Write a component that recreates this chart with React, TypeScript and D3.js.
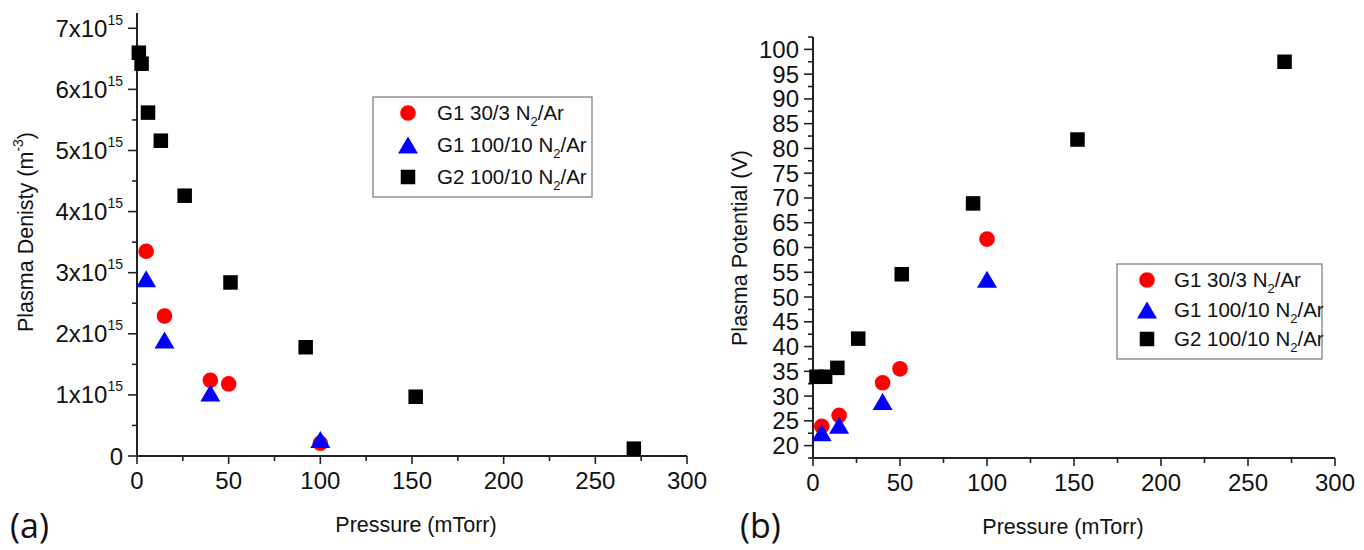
import React, { useEffect, useRef } from "react";
import * as d3 from "d3";

// ---------- Data ----------
// Panel (a): Plasma density (x1e15 m^-3) vs pressure (mTorr)
const pressureG1a = [5, 15, 40, 50, 100];
const densityG1a = [3.35, 2.29, 1.24, 1.18, 0.21];
const pressureG1b = [5, 15, 40, 100];
const densityG1b = [2.9, 1.9, 1.03, 0.27];
const pressureG2 = [1, 2.5, 6, 13, 26, 51, 92, 152, 271];
const densityG2 = [6.6, 6.42, 5.62, 5.16, 4.26, 2.84, 1.78, 0.97, 0.12];

// Panel (b): Plasma potential (V) vs pressure (mTorr)
const pressureG1aV = [5, 15, 40, 50, 100];
const potentialG1a = [23.9, 26.1, 32.7, 35.5, 61.7];
const pressureG1bV = [5, 15, 40, 100];
const potentialG1b = [22.6, 24.1, 28.9, 53.6];
const pressureG2V = [2, 7, 14, 26, 51, 92, 152, 271];
const potentialG2 = [33.9, 33.9, 35.7, 41.6, 54.6, 68.9, 81.8, 97.5];

const seriesNames = ["G1 30/3 N", "G1 100/10 N", "G2 100/10 N"];
const seriesKinds = ["circle", "triangle", "square"];
const seriesColors = ["#ff0000", "#0000ff", "#000000"];

const xTicks = [0, 50, 100, 150, 200, 250, 300];
const densityTicks = [0, 1, 2, 3, 4, 5, 6, 7];
const potentialTicks = d3.range(20, 101, 5);

const FONT = "'Liberation Sans', Arial, Helvetica, sans-serif";
const TICK_FS = 24;
const LEG_FS = 20.5;
const TITLE_FS = 21.5;

function drawMarker(g: any, kind: string, color: string, cx: number, cy: number) {
  if (kind === "circle") {
    g.append("circle").attr("cx", cx).attr("cy", cy).attr("r", 7.8).attr("fill", color);
  } else if (kind === "triangle") {
    const w = 20, h = 17;
    g.append("path")
      .attr("d", `M${cx},${cy - h / 2}L${cx + w / 2},${cy + h / 2}L${cx - w / 2},${cy + h / 2}Z`)
      .attr("fill", color);
  } else {
    const s = 14.5;
    g.append("rect").attr("x", cx - s / 2).attr("y", cy - s / 2).attr("width", s).attr("height", s).attr("fill", color);
  }
}

export default function App() {
  const ref = useRef<SVGSVGElement | null>(null);

  useEffect(() => {
    const svg = d3.select(ref.current);
    svg.selectAll("*").remove();

    const drawPanel = (opts: any) => {
      const { x, y, yTicks, yMinor, xLabelCx, series, yTickFmt, yTitle, yTitleX, yTitleY, panelLabel, panelLabelX, legend } = opts;
      const g = svg.append("g");
      const [x0, x1] = x.range();
      const [yb, yt] = y.range();

      // x minor/major ticks
      d3.range(0, 301, 25).forEach((v: number) => {
        const major = v % 50 === 0;
        g.append("line").attr("x1", x(v)).attr("x2", x(v)).attr("y1", yb).attr("y2", yb + (major ? 8 : 5))
          .attr("stroke", "#222").attr("stroke-width", 1.6);
      });
      xTicks.forEach((v: number) => {
        g.append("text").attr("x", x(v)).attr("y", yb + 33).attr("text-anchor", "middle")
          .attr("font-family", FONT).attr("font-size", TICK_FS).attr("fill", "#111").text(String(v));
      });
      // y ticks
      yMinor.forEach((v: number) => {
        g.append("line").attr("x1", x0).attr("x2", x0 - 5).attr("y1", y(v)).attr("y2", y(v))
          .attr("stroke", "#222").attr("stroke-width", 1.6);
      });
      yTicks.forEach((v: number) => {
        g.append("line").attr("x1", x0).attr("x2", x0 - 9).attr("y1", y(v)).attr("y2", y(v))
          .attr("stroke", "#222").attr("stroke-width", 1.6);
        yTickFmt(g, v, x0 - 14, y(v));
      });
      // axes lines
      g.append("line").attr("x1", x0).attr("x2", x1).attr("y1", yb).attr("y2", yb).attr("stroke", "#222").attr("stroke-width", 2);
      g.append("line").attr("x1", x0).attr("x2", x0).attr("y1", yb).attr("y2", yt).attr("stroke", "#222").attr("stroke-width", 2);

      // titles
      g.append("text").attr("x", xLabelCx).attr("y", yb + 76).attr("text-anchor", "middle")
        .attr("font-family", FONT).attr("font-size", TITLE_FS).attr("fill", "#111").text("Pressure (mTorr)");
      const yt2 = g.append("text").attr("transform", `translate(${yTitleX},${yTitleY}) rotate(-90)`)
        .attr("text-anchor", "middle").attr("font-family", FONT).attr("font-size", TITLE_FS).attr("fill", "#111");
      yTitle(yt2);
      g.append("text").attr("x", panelLabelX).attr("y", 538).attr("font-family", "'Open Sans', sans-serif")
        .attr("font-size", 34).attr("fill", "#111").text(panelLabel);

      // data
      series.forEach((s: any, i: number) => {
        s.xs.forEach((xv: number, j: number) => drawMarker(g, seriesKinds[i], seriesColors[i], x(xv), y(s.ys[j])));
      });

      // legend
      const L = legend;
      g.append("rect").attr("x", L.x).attr("y", L.y).attr("width", L.w).attr("height", L.h)
        .attr("fill", "white").attr("stroke", "#777").attr("stroke-width", 1.2);
      seriesNames.forEach((name: string, i: number) => {
        const ry = L.rows[i];
        drawMarker(g, seriesKinds[i], seriesColors[i], L.mx, ry);
        const t = g.append("text").attr("x", L.tx).attr("y", ry + 7).attr("font-family", FONT)
          .attr("font-size", LEG_FS).attr("fill", "#111");
        t.append("tspan").text(name);
        t.append("tspan").attr("font-size", 13).attr("dy", 6).text("2");
        t.append("tspan").attr("dy", -6).text("/Ar");
      });
    };

    // Panel (a)
    const xa = d3.scaleLinear().domain([0, 300]).range([137, 687]);
    const ya = d3.scaleLinear().domain([0, 7.25]).range([456, 13]);
    drawPanel({
      x: xa,
      y: ya,
      yTicks: densityTicks,
      yMinor: d3.range(0.5, 7.25, 1),
      xLabelCx: 416,
      series: [
        { xs: pressureG1a, ys: densityG1a },
        { xs: pressureG1b, ys: densityG1b },
        { xs: pressureG2, ys: densityG2 },
      ],
      yTickFmt: (g: any, v: number, tx: number, ty: number) => {
        const t = g.append("text").attr("x", tx).attr("y", ty + 8.5).attr("text-anchor", "end")
          .attr("font-family", FONT).attr("font-size", TICK_FS).attr("fill", "#111");
        if (v === 0) {
          t.text("0");
        } else {
          t.append("tspan").text(`${v}x10`);
          t.append("tspan").attr("font-size", 14).attr("dy", -12).text("15");
        }
      },
      yTitle: (t: any) => {
        t.append("tspan").text("Plasma Denisty (m");
        t.append("tspan").attr("font-size", 14).attr("dy", -10).text("-3");
        t.append("tspan").attr("dy", 10).text(")");
      },
      yTitleX: 33,
      yTitleY: 232,
      panelLabel: "(a)",
      panelLabelX: 10,
      legend: { x: 373, y: 97, w: 219, h: 100, rows: [113, 145, 177], mx: 408, tx: 437 },
    });

    // Panel (b)
    const xb = d3.scaleLinear().domain([0, 300]).range([813, 1335]);
    const yb = d3.scaleLinear().domain([17.5, 102.5]).range([458, 37]);
    drawPanel({
      x: xb,
      y: yb,
      yTicks: potentialTicks,
      yMinor: d3.range(17.5, 102.6, 5),
      xLabelCx: 1063,
      series: [
        { xs: pressureG1aV, ys: potentialG1a },
        { xs: pressureG1bV, ys: potentialG1b },
        { xs: pressureG2V, ys: potentialG2 },
      ],
      yTickFmt: (g: any, v: number, tx: number, ty: number) => {
        g.append("text").attr("x", tx).attr("y", ty + 8.5).attr("text-anchor", "end")
          .attr("font-family", FONT).attr("font-size", TICK_FS).attr("fill", "#111").text(String(v));
      },
      yTitle: (t: any) => {
        t.text("Plasma Potential (V)");
      },
      yTitleX: 747,
      yTitleY: 248,
      panelLabel: "(b)",
      panelLabelX: 740,
      legend: { x: 1117, y: 264, w: 205, h: 95, rows: [280, 310, 339], mx: 1147, tx: 1174 },
    });
  }, []);

  return (
    <svg ref={ref} width={1364} height={550}
      style={{ position: "absolute", left: 0, top: 0, background: "white" }} />
  );
}
